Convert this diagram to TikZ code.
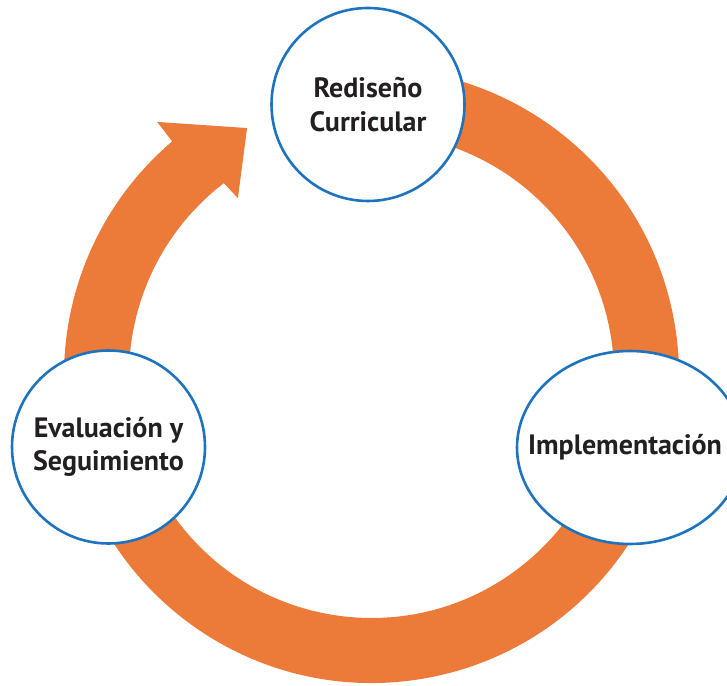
\documentclass[tikz,border=0pt]{standalone}
\usepackage{fontspec}
\setmainfont{PT Sans}
\usetikzlibrary{shapes.geometric}
\definecolor{ringorange}{RGB}{236,123,58}
\definecolor{stageblue}{RGB}{30,115,190}
\definecolor{stagetext}{RGB}{35,31,32}
\begin{document}
\begin{tikzpicture}
    [x=1pt,y=1pt,
    font=\fontsize{28}{33.5}\selectfont\bfseries,
    stage/.style={shape=circle,draw=stageblue,fill=white,line width=2.6pt,minimum size=193pt,inner sep=0pt,align=center,text=stagetext},
    stage1/.style={shape=ellipse,draw=stageblue,fill=white,line width=2.6pt,minimum width=226pt,minimum height=193pt,inner sep=0pt,align=center,text=stagetext},
    ring/.style={fill=ringorange,draw=none}]

    \useasboundingbox (0,0) rectangle (727,685);

    % orange ring with the arrow head
    \begin{scope}[shift={(371.5,309.5)}]
    \fill [ring] (100:307.5) arc [start angle=100,end angle=-229.6,radius=307.5]
        -- (130.2:332) -- (116.7:277) -- (127:222) -- (127.5:242.5)
        arc [start angle=-232.5,end angle=100,radius=242.5] -- cycle;
    \end{scope}

    \node (1) [stage] at (368,580.5) {Rediseño\\Curricular};
    \node (2) [stage1] at (630,237.5) {\makebox[0pt]{Implementación\hspace{10pt}}};
    \node (3) [stage] at (108.5,238) {Evaluación y\\Seguimiento};

\end{tikzpicture}
\end{document}
